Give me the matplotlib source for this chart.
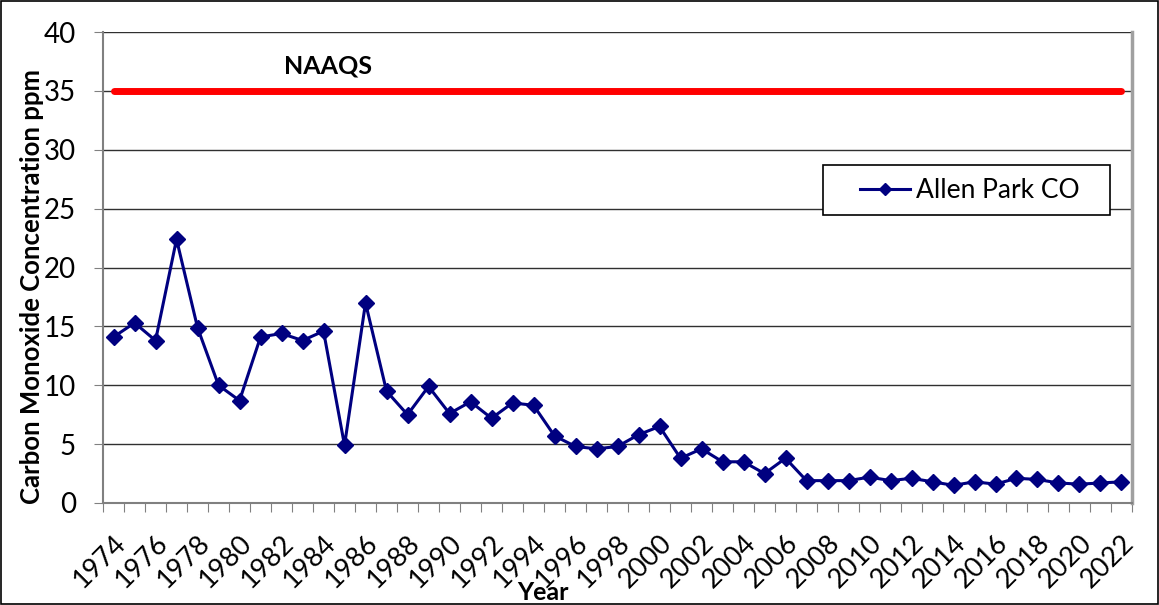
import matplotlib.pyplot as plt
from matplotlib.ticker import MultipleLocator

plt.rcParams['font.family'] = ['Lato', 'DejaVu Sans']

years = list(range(1974, 2023))
co_ppm = [14.1, 15.3, 13.8, 22.4, 14.9, 10.0, 8.7, 14.1, 14.4, 13.8,
          14.6, 4.9, 17.0, 9.5, 7.5, 9.9, 7.6, 8.6, 7.2, 8.5,
          8.3, 5.7, 4.8, 4.6, 4.8, 5.8, 6.5, 3.8, 4.6, 3.5,
          3.5, 2.5, 3.8, 1.9, 1.9, 1.9, 2.2, 1.9, 2.1, 1.8,
          1.5, 1.8, 1.6, 2.1, 2.0, 1.7, 1.6, 1.7, 1.8]
naaqs = 35

x = list(range(len(years)))

fig = plt.figure(figsize=(11.59, 6.05), dpi=100)
ax = fig.add_axes([0.0889, 0.1686, 0.8878, 0.7784])

ax.plot(x, [naaqs] * len(x), color='#ff0000', linewidth=5, solid_capstyle='round', zorder=3)
ax.plot(x, co_ppm, color='#000080', linewidth=2.2, marker='D', markersize=8,
        label='Allen Park CO', zorder=4)

ax.text(10.2, 37.1, 'NAAQS', fontsize=18, fontweight='bold', ha='center', va='center')

ax.set_xlim(-0.5, len(years) - 0.5)
ax.set_ylim(0, 40)
ax.yaxis.set_major_locator(MultipleLocator(5))
ax.grid(axis='y', color='#303030', linewidth=1)
ax.set_axisbelow(True)

# category axis: ticks between categories, labels every other year
ax.set_xticks([i - 0.5 for i in range(len(years) + 1)])
ax.set_xticklabels([])
ax.set_xticks(x[::2], minor=True)
ax.set_xticklabels([str(y) for y in years[::2]], minor=True, rotation=45,
                   ha='right', va='top', rotation_mode='anchor', fontsize=19.5)
ax.tick_params(axis='x', which='major', length=6.5, color='#808080')
ax.tick_params(axis='x', which='minor', length=0, pad=20)
ax.tick_params(axis='y', length=6.5, labelsize=20, color='#808080', pad=13)

for side in ['left', 'bottom']:
    ax.spines[side].set_color('#808080')
    ax.spines[side].set_linewidth(1.5)
ax.spines['top'].set_visible(False)
ax.spines['right'].set_color('#a0a0a0')
ax.spines['right'].set_linewidth(2.5)

ax.set_ylabel('Carbon Monoxide Concentration ppm', fontsize=18.5, fontweight='bold')
ax.yaxis.set_label_coords(-0.057, 0.459)
ax.set_xlabel('Year', fontsize=18, fontweight='bold')
ax.xaxis.set_label_coords(0.428, -0.165)

# legend box drawn separately (wide padding around the entry)
ax.add_patch(plt.Rectangle((0.6997, 0.6115), 0.2789, 0.1061, transform=ax.transAxes,
                           fill=True, facecolor='white', edgecolor='black',
                           linewidth=1.2, zorder=5))
leg = ax.legend(loc='center left', bbox_to_anchor=(0.736, 0.664), fontsize=19,
                frameon=False, handlelength=1.9, borderpad=0, borderaxespad=0,
                handletextpad=0.2, markerscale=0.75)
leg.set_zorder(6)

fig.patches.append(plt.Rectangle((0.001, 0.001), 0.998, 0.997, transform=fig.transFigure,
                                 fill=False, edgecolor='black', linewidth=1.2))

fig.savefig('out.png', dpi=100)
